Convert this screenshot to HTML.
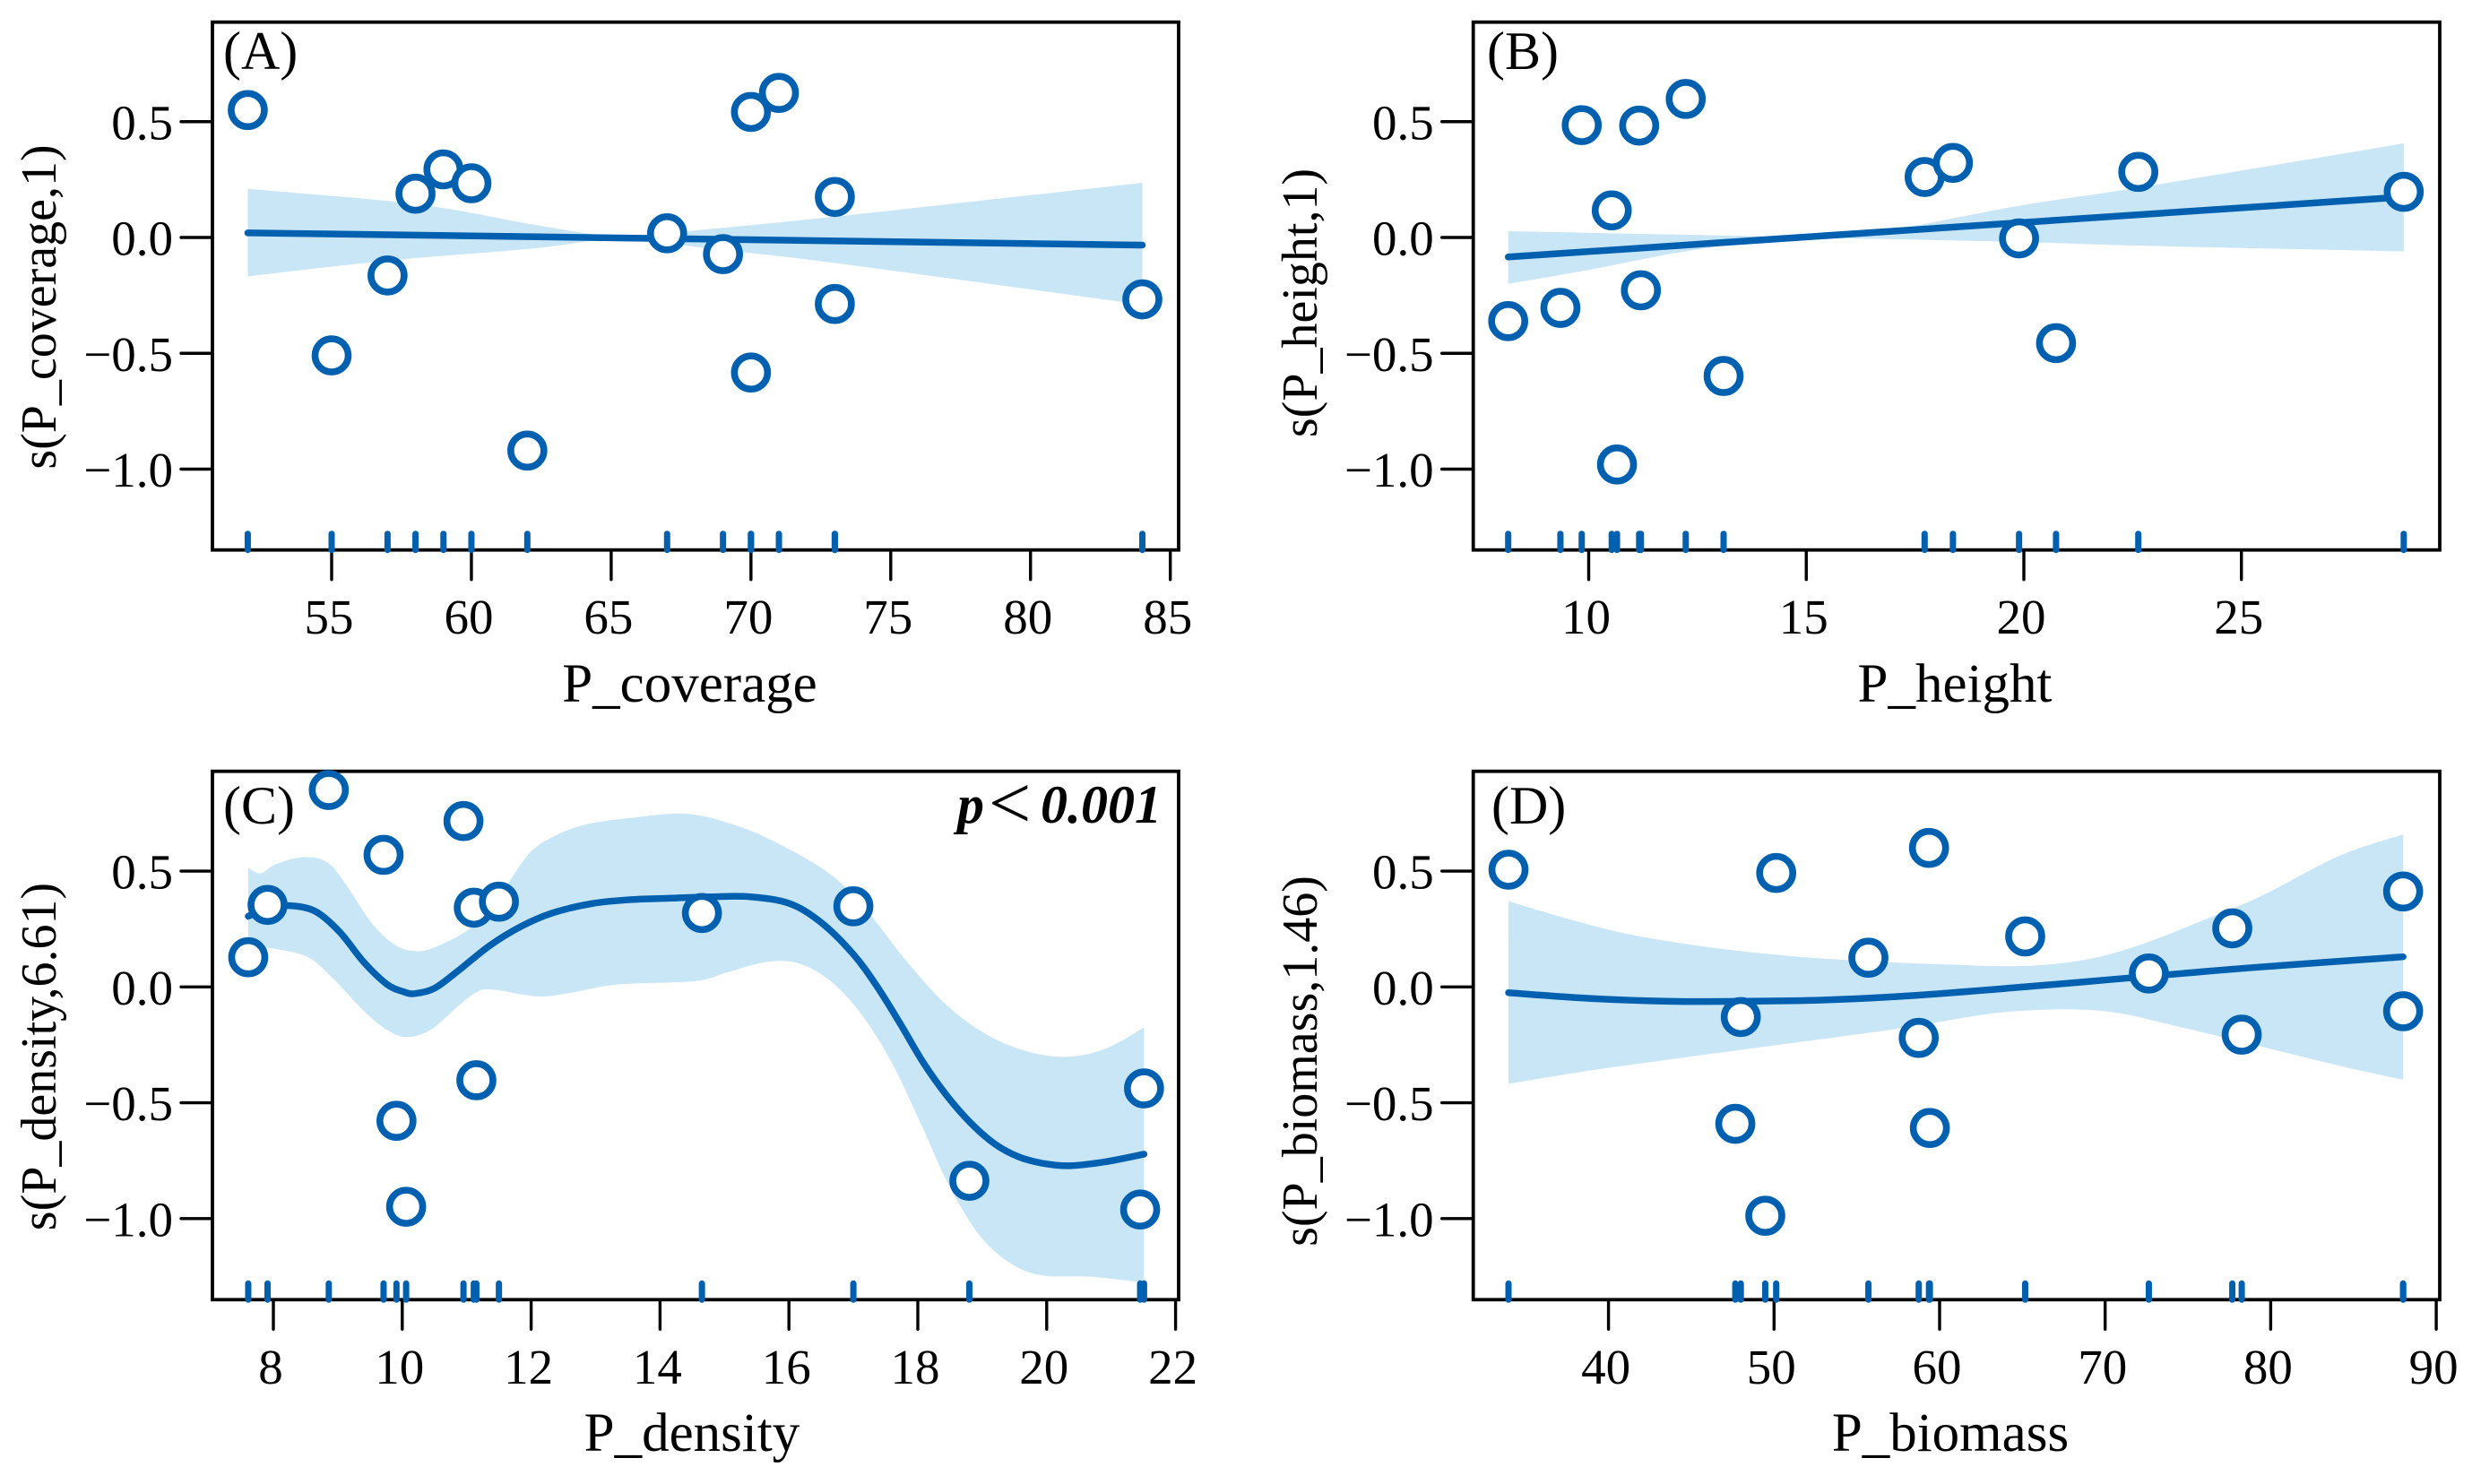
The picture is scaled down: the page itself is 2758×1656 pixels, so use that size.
<!DOCTYPE html>
<html lang="en">
<head>
<meta charset="utf-8">
<title>GAM smooth terms</title>
<style>
html,body{margin:0;padding:0;background:#fff;}
svg{display:block;}
text{font-family:"Liberation Serif",serif;fill:#000;}
.tick{font-size:55px;}
.xt{font-size:61px;}
.yt{font-size:56px;text-anchor:middle;}
.pl{font-size:60px;}
</style>
</head>
<body>
<svg id="chart" xmlns="http://www.w3.org/2000/svg" width="2758" height="1656" viewBox="0 0 2758 1656">
  <rect x="0" y="0" width="2758" height="1656" fill="#fff"/>
  <g id="panel-a"></g>
  <g id="panel-b"></g>
  <g id="panel-c"></g>
  <g id="panel-d"></g>

  <text class="pl" x="249" y="77">(A)</text>
  <text class="pl" x="1659" y="77">(B)</text>
  <text class="pl" x="249" y="919">(C)</text>
  <text class="pl" x="1664" y="919">(D)</text>

  <text class="xt" x="769.5" y="783" text-anchor="middle">P_coverage</text>
  <text class="xt" x="2181" y="783" text-anchor="middle">P_height</text>
  <text class="xt" x="772" y="1619" text-anchor="middle">P_density</text>
  <text class="xt" x="2176" y="1619" text-anchor="middle">P_biomass</text>

  <text class="yt" transform="translate(62,342.5) rotate(-90)">s(P_coverage,1)</text>
  <text class="yt" transform="translate(1469,338) rotate(-90)">s(P_height,1)</text>
  <text class="yt" transform="translate(62,1179) rotate(-90)">s(P_density,6.61)</text>
  <text class="yt" transform="translate(1469,1184) rotate(-90)">s(P_biomass,1.46)</text>

  <text y="918" font-size="60">
    <tspan x="1068" font-weight="bold" font-style="italic">p</tspan><tspan x="1103" dy="6" font-size="84">&lt;</tspan><tspan x="1161" dy="-6" font-weight="bold" font-style="italic">0.001</tspan>
  </text>
</svg>
<script>
// Shared y axis
const yTickValues = [0.5, 0, -0.5, -1];
const yTickLabels = ['0.5', '0.0', '\u22120.5', '\u22121.0'];

// Panel A: P_coverage
const coverageTicks = [55, 60, 65, 70, 75, 80, 85];
const coverageX = [52, 55, 57, 58, 59, 60, 62, 67, 69, 70, 70, 71, 73, 73, 84];
const coverageY = [0.55, -0.509, -0.164, 0.189, 0.294, 0.234, -0.92, 0.018, -0.072, 0.542, -0.583, 0.624, 0.175, -0.287, -0.267];
const coverageLineX = [52, 84];
const coverageLineY = [0.02, -0.033];
const coverageUpperX = [52, 58, 62, 64.5, 66, 68, 73, 84];
const coverageUpperY = [0.21, 0.144, 0.06, 0.012, 0.002, 0.03, 0.09, 0.236];
const coverageLowerX = [52, 57, 62, 64.5, 66, 68, 73, 84];
const coverageLowerY = [-0.168, -0.1, -0.05, -0.012, -0.004, -0.04, -0.11, -0.29];

// Panel B: P_height
const heightTicks = [10, 15, 20, 25];
const heightX = [8.15, 9.35, 9.84, 10.53, 10.65, 11.16, 11.2, 12.23, 13.1, 17.72, 18.37, 19.89, 20.74, 22.63, 28.73];
const heightY = [-0.361, -0.304, 0.485, 0.117, -0.98, 0.483, -0.228, 0.598, -0.598, 0.261, 0.322, -0.004, -0.456, 0.283, 0.197];
const heightLineX = [8.15, 28.73];
const heightLineY = [-0.084, 0.175];
const heightUpperX = [8.15, 10, 12.23, 14.5, 16.5, 20, 22.63, 28.73];
const heightUpperY = [0.027, 0.02, 0.012, 0.005, 0.02, 0.14, 0.215, 0.406];
const heightLowerX = [8.15, 10, 12.23, 14.5, 16.5, 20, 22.63, 28.73];
const heightLowerY = [-0.2, -0.14, -0.06, -0.005, -0.006, -0.02, -0.035, -0.06];

// Panel C: P_density
const densityTicks = [8, 10, 12, 14, 16, 18, 20, 22];
const densityX = [7.61, 7.91, 8.86, 9.71, 9.91, 10.06, 10.95, 11.11, 11.15, 11.5, 14.65, 17.0, 18.8, 21.51, 21.45];
const densityY = [0.128, 0.354, 0.85, 0.57, -0.578, -0.949, 0.716, 0.342, -0.403, 0.368, 0.319, 0.348, -0.837, -0.438, -0.961];
const densityLineX = [7.61, 7.93, 8.29, 8.66, 9.03, 9.4, 9.76, 10.01, 10.19, 10.5, 10.87, 11.36, 11.85, 12.34, 12.95, 13.56, 14.17, 14.79, 15.4, 16.01, 16.5, 16.99, 17.36, 17.73, 18.09, 18.46, 18.83, 19.2, 19.56, 19.93, 20.36, 20.91, 21.51];
const densityLineY = [0.305, 0.345, 0.35, 0.325, 0.237, 0.108, 0.012, -0.02, -0.029, -0.006, 0.07, 0.179, 0.262, 0.32, 0.36, 0.377, 0.383, 0.389, 0.389, 0.36, 0.278, 0.144, 0.005, -0.16, -0.329, -0.473, -0.59, -0.679, -0.733, -0.761, -0.772, -0.755, -0.722];
const densityUpperX = [7.61, 7.8, 8.05, 8.48, 8.85, 9.15, 9.52, 9.89, 10.25, 10.62, 11.11, 11.6, 11.97, 12.34, 12.83, 13.56, 14.42, 15.15, 15.77, 16.5, 16.99, 17.36, 17.85, 18.46, 19.07, 19.69, 20.3, 20.91, 21.51];
const densityUpperY = [0.514, 0.49, 0.531, 0.56, 0.535, 0.432, 0.278, 0.181, 0.154, 0.185, 0.267, 0.432, 0.576, 0.648, 0.7, 0.73, 0.747, 0.7, 0.628, 0.514, 0.401, 0.278, 0.103, -0.082, -0.206, -0.278, -0.302, -0.267, -0.175];
const densityLowerX = [7.61, 8.05, 8.54, 8.91, 9.4, 9.76, 10.07, 10.44, 10.87, 11.17, 11.42, 12.09, 12.58, 13.32, 14.54, 15.03, 15.64, 16.13, 16.62, 17.11, 17.6, 18.09, 18.46, 18.95, 19.44, 19.93, 20.67, 21.51];
const densityLowerY = [0.175, 0.163, 0.128, 0.041, -0.103, -0.185, -0.216, -0.185, -0.082, -0.02, -0.012, -0.041, -0.027, 0.01, 0.025, 0.062, 0.107, 0.103, 0.031, -0.113, -0.329, -0.617, -0.844, -1.07, -1.193, -1.245, -1.251, -1.276];

// Panel D: P_biomass
const biomassTicks = [40, 50, 60, 70, 80, 90];
const biomassX = [33.96, 47.66, 47.99, 49.47, 50.13, 55.7, 58.74, 59.36, 59.41, 65.17, 72.64, 77.68, 78.25, 88.0, 88.0];
const biomassY = [0.506, -0.591, -0.13, -0.988, 0.492, 0.126, -0.22, 0.6, -0.609, 0.218, 0.058, 0.253, -0.206, 0.412, -0.105];
const biomassLineX = [33.96, 38.95, 43.71, 47.99, 53.23, 58.46, 65.12, 69.88, 74.63, 79.39, 88.0];
const biomassLineY = [-0.025, -0.05, -0.062, -0.062, -0.056, -0.037, 0, 0.029, 0.058, 0.086, 0.13];
const biomassUpperX = [33.96, 37.53, 41.33, 46.09, 50.85, 55.6, 60.36, 65.12, 68.92, 72.25, 75.58, 79.39, 84.15, 88.0];
const biomassUpperY = [0.37, 0.294, 0.226, 0.171, 0.134, 0.111, 0.097, 0.09, 0.119, 0.185, 0.278, 0.391, 0.566, 0.658];
const biomassLowerX = [33.96, 38.95, 43.71, 48.47, 53.23, 57.98, 62.74, 65.12, 67.97, 70.83, 74.63, 79.39, 84.15, 88.0];
const biomassLowerY = [-0.418, -0.36, -0.313, -0.267, -0.222, -0.175, -0.119, -0.103, -0.097, -0.113, -0.175, -0.257, -0.34, -0.401];

const NS = 'http://www.w3.org/2000/svg';
const INK = '#000';
const BLUE = '#0060B0';
const BAND = '#C8E6F5';

function mk(tag, attrs, parent) {
  const node = document.createElementNS(NS, tag);
  for (const k in attrs) node.setAttribute(k, attrs[k]);
  parent.appendChild(node);
  return node;
}

function smoothSegs(pts) {
  let d = '';
  for (let i = 0; i < pts.length - 1; i++) {
    const p0 = pts[Math.max(i - 1, 0)];
    const p1 = pts[i];
    const p2 = pts[i + 1];
    const p3 = pts[Math.min(i + 2, pts.length - 1)];
    const c1x = p1[0] + (p2[0] - p0[0]) / 6;
    const c1y = p1[1] + (p2[1] - p0[1]) / 6;
    const c2x = p2[0] - (p3[0] - p1[0]) / 6;
    const c2y = p2[1] - (p3[1] - p1[1]) / 6;
    d += 'C' + c1x.toFixed(2) + ' ' + c1y.toFixed(2) + ' ' + c2x.toFixed(2) + ' ' + c2y.toFixed(2) + ' ' + p2[0].toFixed(2) + ' ' + p2[1].toFixed(2);
  }
  return d;
}

function drawPanel(cfg) {
  const g = document.getElementById(cfg.id);
  const sx = v => cfg.xRefPx + (v - cfg.xRefVal) * cfg.xUnit;
  const sy = v => cfg.yZero - v * 258.5;

  // frame
  const frame = mk('rect', {x: cfg.left, y: cfg.top, width: cfg.right - cfg.left, height: cfg.bottom - cfg.top, fill: 'none', stroke: INK, 'stroke-width': 3.8}, g);
  
  

  // y ticks and labels
  yTickValues.forEach((v, i) => {
    const t = mk('line', {x1: cfg.left - 35, x2: cfg.left, y1: sy(v), y2: sy(v), stroke: INK, 'stroke-width': 3.4, 'stroke-linecap': 'round'}, g);
    
    
    const lab = mk('text', {class: 'tick', x: cfg.left - 44, y: sy(v) + 19.5, 'text-anchor': 'end'}, g);
    
    
    lab.textContent = yTickLabels[i];
  });

  // x ticks and labels
  cfg.ticks.forEach(v => {
    const t = mk('line', {x1: sx(v), x2: sx(v), y1: cfg.bottom, y2: cfg.bottom + 33, stroke: INK, 'stroke-width': 3.4, 'stroke-linecap': 'round'}, g);
    
    
    const lab = mk('text', {class: 'tick', x: sx(v) - 3, y: cfg.bottom + 93.5, 'text-anchor': 'middle'}, g);
    
    
    lab.textContent = String(v);
  });

  // confidence band
  const up = cfg.upperX.map((x, i) => [sx(x), sy(cfg.upperY[i])]);
  const lo = cfg.lowerX.map((x, i) => [sx(x), sy(cfg.lowerY[i])]).reverse();
  const bandD = 'M' + up[0][0] + ' ' + up[0][1] + smoothSegs(up) + 'L' + lo[0][0] + ' ' + lo[0][1] + smoothSegs(lo) + 'Z';
  const band = mk('path', {d: bandD, fill: BAND, stroke: 'none'}, g);
  
  

  // fitted smooth
  const linePts = cfg.lineX.map((x, i) => [sx(x), sy(cfg.lineY[i])]);
  const lineD = 'M' + linePts[0][0] + ' ' + linePts[0][1] + smoothSegs(linePts);
  const line = mk('path', {d: lineD, fill: 'none', stroke: BLUE, 'stroke-width': 7.5, 'stroke-linecap': 'round', 'stroke-linejoin': 'round'}, g);
  
  

  // rug
  cfg.x.forEach(v => {
    const r = mk('line', {x1: sx(v), x2: sx(v), y1: cfg.bottom - 18, y2: cfg.bottom, stroke: BLUE, 'stroke-width': 7, 'stroke-linecap': 'round'}, g);
    
    
  });

  // residual points
  cfg.x.forEach((v, i) => {
    const c = mk('circle', {cx: sx(v), cy: sy(cfg.y[i]), r: 18.5, fill: '#fff', stroke: BLUE, 'stroke-width': 7.6}, g);
    
    
  });
}

drawPanel({id: 'panel-a', left: 237, right: 1315, top: 24.7, bottom: 613.7, yZero: 265, xRefVal: 55, xRefPx: 370, xUnit: 31.19,
  ticks: coverageTicks, x: coverageX, y: coverageY, lineX: coverageLineX, lineY: coverageLineY,
  upperX: coverageUpperX, upperY: coverageUpperY, lowerX: coverageLowerX, lowerY: coverageLowerY});
drawPanel({id: 'panel-b', left: 1643.7, right: 2722, top: 24.7, bottom: 613.7, yZero: 265, xRefVal: 10, xRefPx: 1772.5, xUnit: 48.55,
  ticks: heightTicks, x: heightX, y: heightY, lineX: heightLineX, lineY: heightLineY,
  upperX: heightUpperX, upperY: heightUpperY, lowerX: heightLowerX, lowerY: heightLowerY});
drawPanel({id: 'panel-c', left: 237, right: 1315, top: 860.7, bottom: 1450.3, yZero: 1101.3, xRefVal: 8, xRefPx: 305, xUnit: 71.9,
  ticks: densityTicks, x: densityX, y: densityY, lineX: densityLineX, lineY: densityLineY,
  upperX: densityUpperX, upperY: densityUpperY, lowerX: densityLowerX, lowerY: densityLowerY});
drawPanel({id: 'panel-d', left: 1643.7, right: 2722, top: 860.7, bottom: 1450.3, yZero: 1101.3, xRefVal: 70, xRefPx: 2348.7, xUnit: 18.47,
  ticks: biomassTicks, x: biomassX, y: biomassY, lineX: biomassLineX, lineY: biomassLineY,
  upperX: biomassUpperX, upperY: biomassUpperY, lowerX: biomassLowerX, lowerY: biomassLowerY});
</script>
</body>
</html>
